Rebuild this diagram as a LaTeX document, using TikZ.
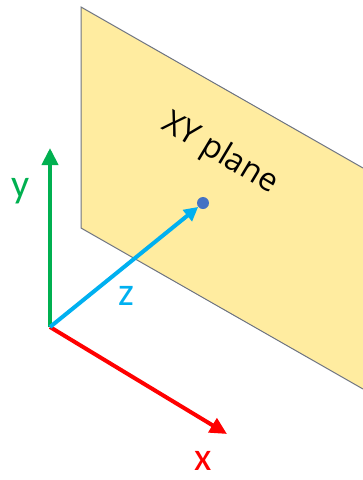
\documentclass[tikz,border=0pt]{standalone}
\usepackage{fontspec}
\setmainfont{Carlito}
\newfontfamily\planefont{Open Sans}
\usetikzlibrary{arrows.meta}
\definecolor{planefill}{RGB}{255,236,160}
\definecolor{planeedge}{RGB}{110,116,130}
\definecolor{axgreen}{RGB}{0,176,80}
\definecolor{axred}{RGB}{255,0,0}
\definecolor{axblue}{RGB}{0,176,240}
\definecolor{dotblue}{RGB}{68,114,196}
\tikzset{
  axis/.style={line width=4pt},
  bigtip/.style={-{Triangle[length=17pt,width=16pt]}},
  axlabel/.style={font=\fontsize{40}{40}\selectfont, inner sep=0pt},
}
\begin{document}
\begin{tikzpicture}[x=1pt,y=-1pt]
\useasboundingbox (0,0) rectangle (363,480);
% plane
\coordinate (TL) at (81,7);
\coordinate (BL) at (81,228);
\coordinate (TR) at (363,168);
\coordinate (BR) at (363,389);
\fill[planefill] (TL) -- (TR) -- (BR) -- (BL) -- cycle;
\draw[planeedge, line width=1pt] (TR) -- (TL) -- (BL) -- (BR);
\node[font=\planefont\fontsize{32}{32}\selectfont, rotate=-31, inner sep=0pt] (plane) at (220,154) {XY plane};
% axes
\coordinate (O) at (50,327);
\coordinate (Yt) at (50,148);
\coordinate (Xt) at (227,434);
\node[circle, fill=dotblue, minimum size=12pt, inner sep=0pt] (D) at (203,203) {};
\draw[axis, axgreen, bigtip] (O) -- (Yt);
\draw[axis, axred, bigtip] (O) -- (Xt);
\draw[axis, axblue, -{Triangle[length=14pt,width=14pt]}] (O) -- (D);
\node[axlabel, text=axgreen] (ylab) at (21,191) {y};
\node[axlabel, text=axblue] (zlab) at (126,296) {z};
\node[axlabel, text=axred] (xlab) at (203,461) {x};
\end{tikzpicture}
\end{document}
